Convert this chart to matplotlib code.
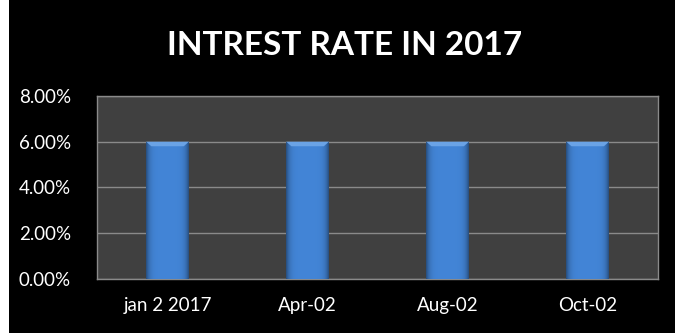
import numpy as np
import matplotlib.pyplot as plt
from matplotlib.patches import Rectangle
from matplotlib.ticker import PercentFormatter

# data
dates = ["jan 2 2017", "Apr-02", "Aug-02", "Oct-02"]
rates = [0.06, 0.06, 0.06, 0.06]
yticks = [0.0, 0.02, 0.04, 0.06, 0.08]

plt.rcParams['font.family'] = ['Lato', 'DejaVu Sans']

fig = plt.figure(figsize=(6.75, 3.33), dpi=100, facecolor='black')
# thin white strip on the left edge
fig.patches.append(Rectangle((0, 0), 9/675, 1, transform=fig.transFigure,
                             facecolor='white', edgecolor='none', zorder=0))

ax = fig.add_axes([97.5/675, 54.3/333, 560.2/675, 182.7/333])
ax.set_facecolor('#404040')

x = np.arange(len(dates))
bars = ax.bar(x, rates, width=0.305, color='#3f7fd0', edgecolor='none', zorder=2)

# horizontal shading on each bar: darker sides, lighter middle
grad = np.linspace(-1, 1, 64)
shade = 1 - 0.4*grad**6
base = np.array([0.26, 0.52, 0.84])
img = np.ones((2, 64, 3)) * base
img = img * shade[None, :, None]
for b in bars:
    x0, w, h = b.get_x(), b.get_width(), b.get_height()
    im = ax.imshow(np.clip(img, 0, 1), extent=[x0, x0 + w, 0, h], aspect='auto',
                   origin='lower', zorder=3)
    im.set_clip_path(b)
    # bevel at top
    ax.fill([x0, x0 + w, x0 + w*0.88, x0 + w*0.12], [h, h, h - 0.002, h - 0.002],
            color='#6aa3e6', zorder=4, lw=0)

ax.set_xlim(-0.5, len(dates) - 0.5)
ax.set_ylim(0, 0.08)
ax.set_yticks(yticks)
ax.yaxis.set_major_formatter(PercentFormatter(1.0, decimals=2))
ax.set_xticks(x)
ax.set_xticklabels(dates)
ax.grid(axis='y', color='#8a8a8a', lw=1, zorder=1)
ax.set_axisbelow(True)
for s in ax.spines.values():
    s.set_color('#8a8a8a')
    s.set_linewidth(1)
ax.tick_params(colors='white', labelsize=13.5, length=0)
ax.tick_params(axis='y', pad=19)
ax.tick_params(axis='x', pad=13)

fig.text(344.5/675, 1 - 45.5/333, "INTREST RATE IN 2017", color='white',
         fontsize=24, fontweight='bold', ha='center', va='center')

fig.savefig('out.png', dpi=100, facecolor='black')
